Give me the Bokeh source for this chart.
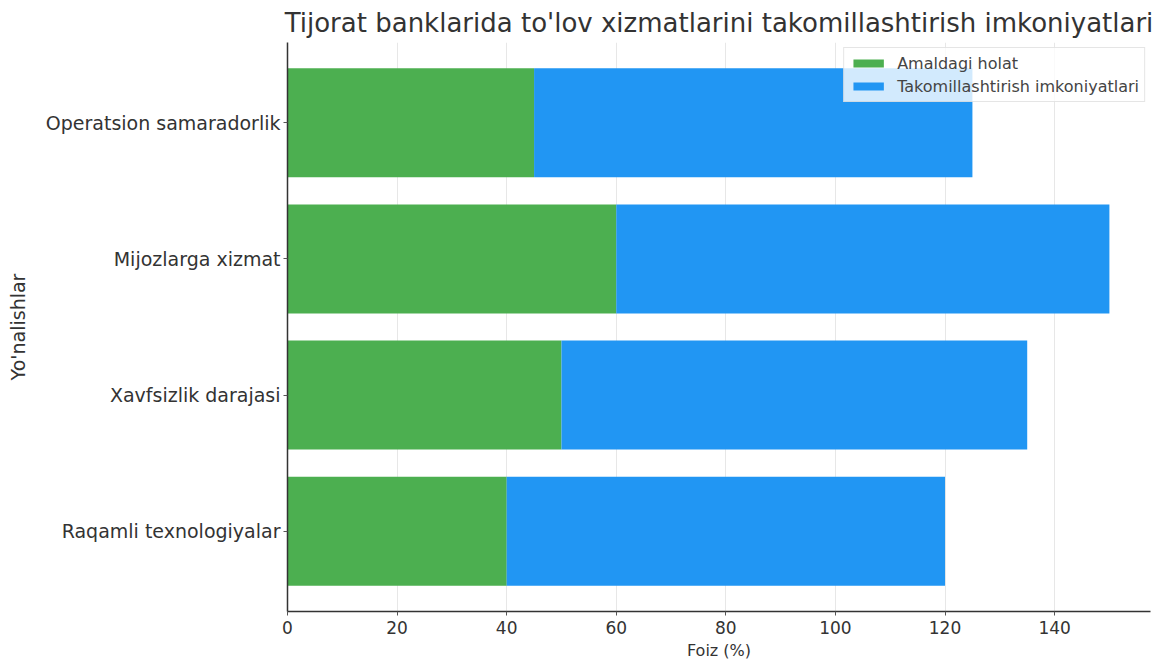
from bokeh.plotting import figure
from bokeh.models import FactorRange, FixedTicker, Legend, LegendItem
from bokeh.embed import file_html
from bokeh.resources import INLINE

categories = ["Raqamli texnologiyalar", "Xavfsizlik darajasi", "Mijozlarga xizmat", "Operatsion samaradorlik"]
current = [40, 50, 60, 45]
improvement = [80, 85, 90, 80]
series_names = ["Amaldagi holat", "Takomillashtirish imkoniyatlari"]
x_ticks = [0, 20, 40, 60, 80, 100, 120, 140]

FONT = "DejaVu Sans"

p = figure(width=1161, height=662, output_backend="svg", toolbar_location=None,
           y_range=FactorRange(*categories, range_padding=0.045),
           x_range=(0, 157.5),
           title="Tijorat banklarida to'lov xizmatlarini takomillashtirish imkoniyatlari",
           min_border_left=287, min_border_right=11, min_border_top=41, min_border_bottom=50)

data = {"cat": categories, "a": current, "b": improvement}
renderers = p.hbar_stack(["a", "b"], y="cat", height=0.8, source=data,
                         color=["#4CAF50", "#2196F3"], line_color=None)

p.title.text_font = FONT
p.title.text_font_size = "26px"
p.title.text_font_style = "normal"
p.title.text_color = "#333333"
p.title.align = "center"
p.title.offset = 0

p.outline_line_color = None
p.background_fill_color = "white"
p.border_fill_color = "white"

p.xaxis.ticker = FixedTicker(ticks=x_ticks)
p.xaxis.axis_label = "Foiz (%)"
p.yaxis.axis_label = "Yo'nalishlar"
for ax in (p.xaxis, p.yaxis):
    ax.axis_label_text_font = FONT
    ax.axis_label_text_font_style = "normal"
    ax.axis_label_text_color = "#333333"
    ax.major_label_text_font = FONT
    ax.major_label_text_color = "#333333"
    ax.axis_line_color = "#333333"
    ax.axis_line_width = 1.5
    ax.major_tick_line_color = "#555555"
    ax.major_tick_in = 0
    ax.major_tick_out = 4
    ax.minor_tick_line_color = None
p.xaxis.major_label_text_font_size = "17px"
p.yaxis.major_label_text_font_size = "19px"
p.xaxis.axis_label_text_font_size = "16px"
p.yaxis.axis_label_text_font_size = "19px"
p.xaxis.axis_label_standoff = 4
p.yaxis.major_label_standoff = 3
p.yaxis.axis_label_standoff = 14

p.xgrid.grid_line_color = "#dddddd"
p.xgrid.grid_line_alpha = 0.7
p.ygrid.grid_line_color = None

legend = Legend(items=[LegendItem(label=series_names[0], renderers=[renderers[0]]),
                       LegendItem(label=series_names[1], renderers=[renderers[1]])],
                location="top_right")
legend.margin = 5
legend.padding = 5
legend.spacing = 3
legend.label_text_font = FONT
legend.label_text_font_size = "16px"
legend.label_text_color = "#444444"
legend.glyph_width = 38
legend.glyph_height = 10
legend.label_height = 20
legend.label_standoff = 10
legend.background_fill_alpha = 0.8
legend.border_line_color = "#cccccc"
p.add_layout(legend)

open("out.html", "w").write(file_html(p, INLINE))
